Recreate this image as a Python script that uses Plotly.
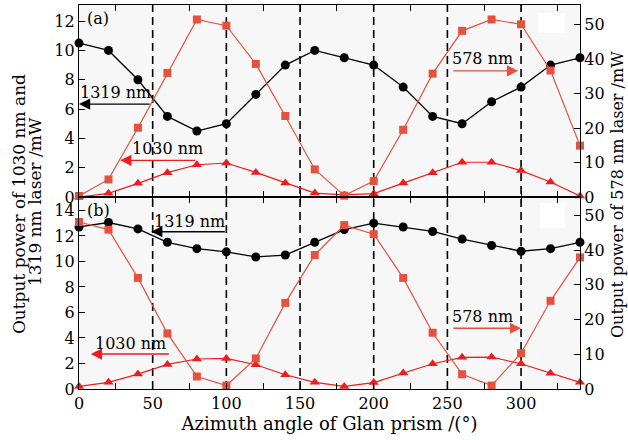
import plotly.graph_objects as go
from plotly.subplots import make_subplots

# ---------------- data ----------------
angle = [0, 20, 40, 60, 80, 100, 120, 140, 160, 180, 200, 220, 240, 260, 280, 300, 320, 340]

# panel (a)
p1319_a = [10.5, 10.0, 8.0, 5.5, 4.5, 5.0, 7.0, 9.0, 10.0, 9.5, 9.0, 7.5, 5.5, 5.0, 6.5, 7.5, 9.0, 9.5]
p578_a = [0.3, 5.1, 20.1, 36.0, 51.5, 49.7, 38.6, 23.5, 8.0, 0.4, 4.6, 19.5, 35.8, 48.2, 51.5, 50.1, 36.7, 14.9]
p1030_a = [0.0, 0.25, 0.93, 1.66, 2.2, 2.32, 1.68, 0.95, 0.27, 0.14, 0.23, 0.95, 1.66, 2.37, 2.37, 1.8, 1.02, 0.07]

# panel (b)
p1319_b = [12.7, 13.05, 12.55, 11.5, 11.0, 10.75, 10.35, 10.5, 11.5, 12.5, 13.0, 12.7, 12.35, 11.75, 11.25, 10.8, 11.0, 11.5]
p578_b = [48.1, 45.9, 32.0, 16.0, 3.6, 1.0, 8.8, 24.8, 38.6, 47.2, 44.6, 32.0, 16.2, 4.25, 1.0, 10.3, 25.4, 37.9]
p1030_b = [0.2, 0.52, 1.17, 1.93, 2.35, 2.4, 1.9, 1.12, 0.52, 0.2, 0.5, 1.25, 1.98, 2.48, 2.5, 1.98, 1.23, 0.52]

dash_positions = [50, 100, 150, 200, 250, 300]

FONT = "DejaVu Serif"
FS = 16
BLACK = "#000000"
SQ_RED = "#E6503F"
TRI_RED = "#EE1D1D"

fig = make_subplots(rows=2, cols=1, specs=[[{"secondary_y": True}], [{"secondary_y": True}]],
                    vertical_spacing=0)

for row, (c, s, t) in enumerate([(p1319_a, p578_a, p1030_a), (p1319_b, p578_b, p1030_b)], start=1):
    fig.add_trace(go.Scatter(x=angle, y=s, mode="lines+markers", cliponaxis=False,
                             line=dict(color=SQ_RED, width=1.2),
                             marker=dict(symbol="square", size=8, color=SQ_RED)),
                  row=row, col=1, secondary_y=True)
    fig.add_trace(go.Scatter(x=angle, y=c, mode="lines+markers", cliponaxis=False,
                             line=dict(color=BLACK, width=1.3),
                             marker=dict(symbol="circle", size=9, color=BLACK)),
                  row=row, col=1, secondary_y=False)
    fig.add_trace(go.Scatter(x=angle, y=t, mode="lines+markers", cliponaxis=False,
                             line=dict(color=TRI_RED, width=1.2),
                             marker=dict(symbol="triangle-up", size=9, color=TRI_RED)),
                  row=row, col=1, secondary_y=False)

tickfont = dict(family=FONT, size=FS, color="black")
xcommon = dict(domain=[0, 1], range=[0, 340], dtick=50, tick0=0, ticks="inside", ticklen=6, tickcolor="black",
               showline=True, linecolor="black", linewidth=1.2, mirror="ticks",
               showgrid=False, zeroline=False, tickfont=tickfont,
               minor=dict(dtick=25, tick0=0, ticks="inside", ticklen=6, tickcolor="black", showgrid=False))
fig.update_xaxes(**xcommon)
fig.update_xaxes(showticklabels=False, row=1, col=1)
fig.update_xaxes(title=dict(text="Azimuth angle of Glan prism /(°)", font=dict(family=FONT, size=18),
                            standoff=4), row=2, col=1)

ycommon = dict(ticks="inside", ticklen=6, tickcolor="black", showline=True, linecolor="black",
               linewidth=1.2, showgrid=False, zeroline=False, tickfont=tickfont)
fig.update_layout(
    yaxis=dict(range=[0, 13.1], dtick=2, **ycommon),
    yaxis2=dict(range=[0, 55.7], dtick=10, **ycommon),
    yaxis3=dict(range=[0, 15.05], dtick=2, **ycommon),
    yaxis4=dict(range=[0, 55.3], dtick=10, **ycommon),
)

shapes = []
for xv in dash_positions:
    shapes.append(dict(type="line", xref="x", yref="paper", x0=xv, x1=xv, y0=0, y1=1,
                       line=dict(color="black", width=1.6, dash="8px,5px"), layer="below"))
# blank white boxes (legend remnants)
shapes.append(dict(type="rect", xref="x domain", yref="y domain", x0=0.916, x1=0.970, y0=0.854, y1=0.958,
                   fillcolor="white", line=dict(width=0), layer="below"))
shapes.append(dict(type="rect", xref="x2 domain", yref="y3 domain", x0=0.920, x1=0.970, y0=0.839, y1=0.969,
                   fillcolor="white", line=dict(width=0), layer="below"))

txtfont = dict(family=FONT, size=FS, color="black")
ann = []
# panel labels
ann.append(dict(text="(a)", xref="x domain", yref="y domain", x=0.012, y=0.99, xanchor="left", yanchor="top",
                showarrow=False, font=txtfont))
ann.append(dict(text="(b)", xref="x2 domain", yref="y3 domain", x=0.012, y=0.99, xanchor="left", yanchor="top",
                showarrow=False, font=txtfont))

def arrow(xref, yref, x_head, x_tail, yv, color):
    return dict(xref=xref, yref=yref, axref=xref, ayref=yref, x=x_head, y=yv, ax=x_tail, ay=yv,
                text="", showarrow=True, arrowhead=2, arrowsize=1.6, arrowwidth=1.4, arrowcolor=color,
                standoff=0, startstandoff=0)

def label(xref, yref, xv, yv, text):
    return dict(xref=xref, yref=yref, x=xv, y=yv, text=text, showarrow=False, font=txtfont,
                xanchor="center", yanchor="middle")

# top panel
ann.append(label("x", "y", 25, 7.1, "1319 nm"))
ann.append(arrow("x", "y", 0, 49, 6.34, BLACK))
ann.append(label("x", "y", 60, 3.3, "1030 nm"))
ann.append(arrow("x", "y", 28, 80, 2.5, TRI_RED))
ann.append(label("x", "y2", 274, 40.3, "578 nm"))
ann.append(arrow("x", "y2", 298, 253, 36.6, SQ_RED))
# bottom panel
ann.append(label("x2", "y3", 75, 13.15, "1319 nm"))
ann.append(arrow("x2", "y3", 49, 100, 12.33, BLACK))
ann.append(label("x2", "y3", 35, 3.6, "1030 nm"))
ann.append(arrow("x2", "y3", 8, 62, 2.74, TRI_RED))
ann.append(label("x2", "y4", 274, 21.0, "578 nm"))
ann.append(arrow("x2", "y4", 300, 253, 17.5, SQ_RED))

# axis titles
ann.append(dict(text="Output power of 1030 nm and", xref="paper", yref="paper",
                x=(18.5 - 79) / 501, y=(389 - 204.6) / 384, xanchor="center", yanchor="middle",
                textangle=-90, showarrow=False, font=dict(family=FONT, size=17, color="black")))
ann.append(dict(text="1319 nm laser /mW", xref="paper", yref="paper",
                x=(35 - 79) / 501, y=(389 - 202) / 384, xanchor="center", yanchor="middle",
                textangle=-90, showarrow=False, font=dict(family=FONT, size=17, color="black")))
ann.append(dict(text="Output power of 578 nm laser /mW", xref="paper", yref="paper",
                x=(617 - 79) / 501, y=(389 - 195) / 384, xanchor="center", yanchor="middle",
                textangle=-90, showarrow=False, font=dict(family=FONT, size=FS, color="black")))

fig.update_layout(
    width=628, height=440,
    margin=dict(l=79, r=48, t=5, b=51),
    paper_bgcolor="white", plot_bgcolor="#f7f7f7",
    showlegend=False,
    shapes=shapes, annotations=ann,
    font=dict(family=FONT, color="black"),
)

fig.write_html("out.html")
